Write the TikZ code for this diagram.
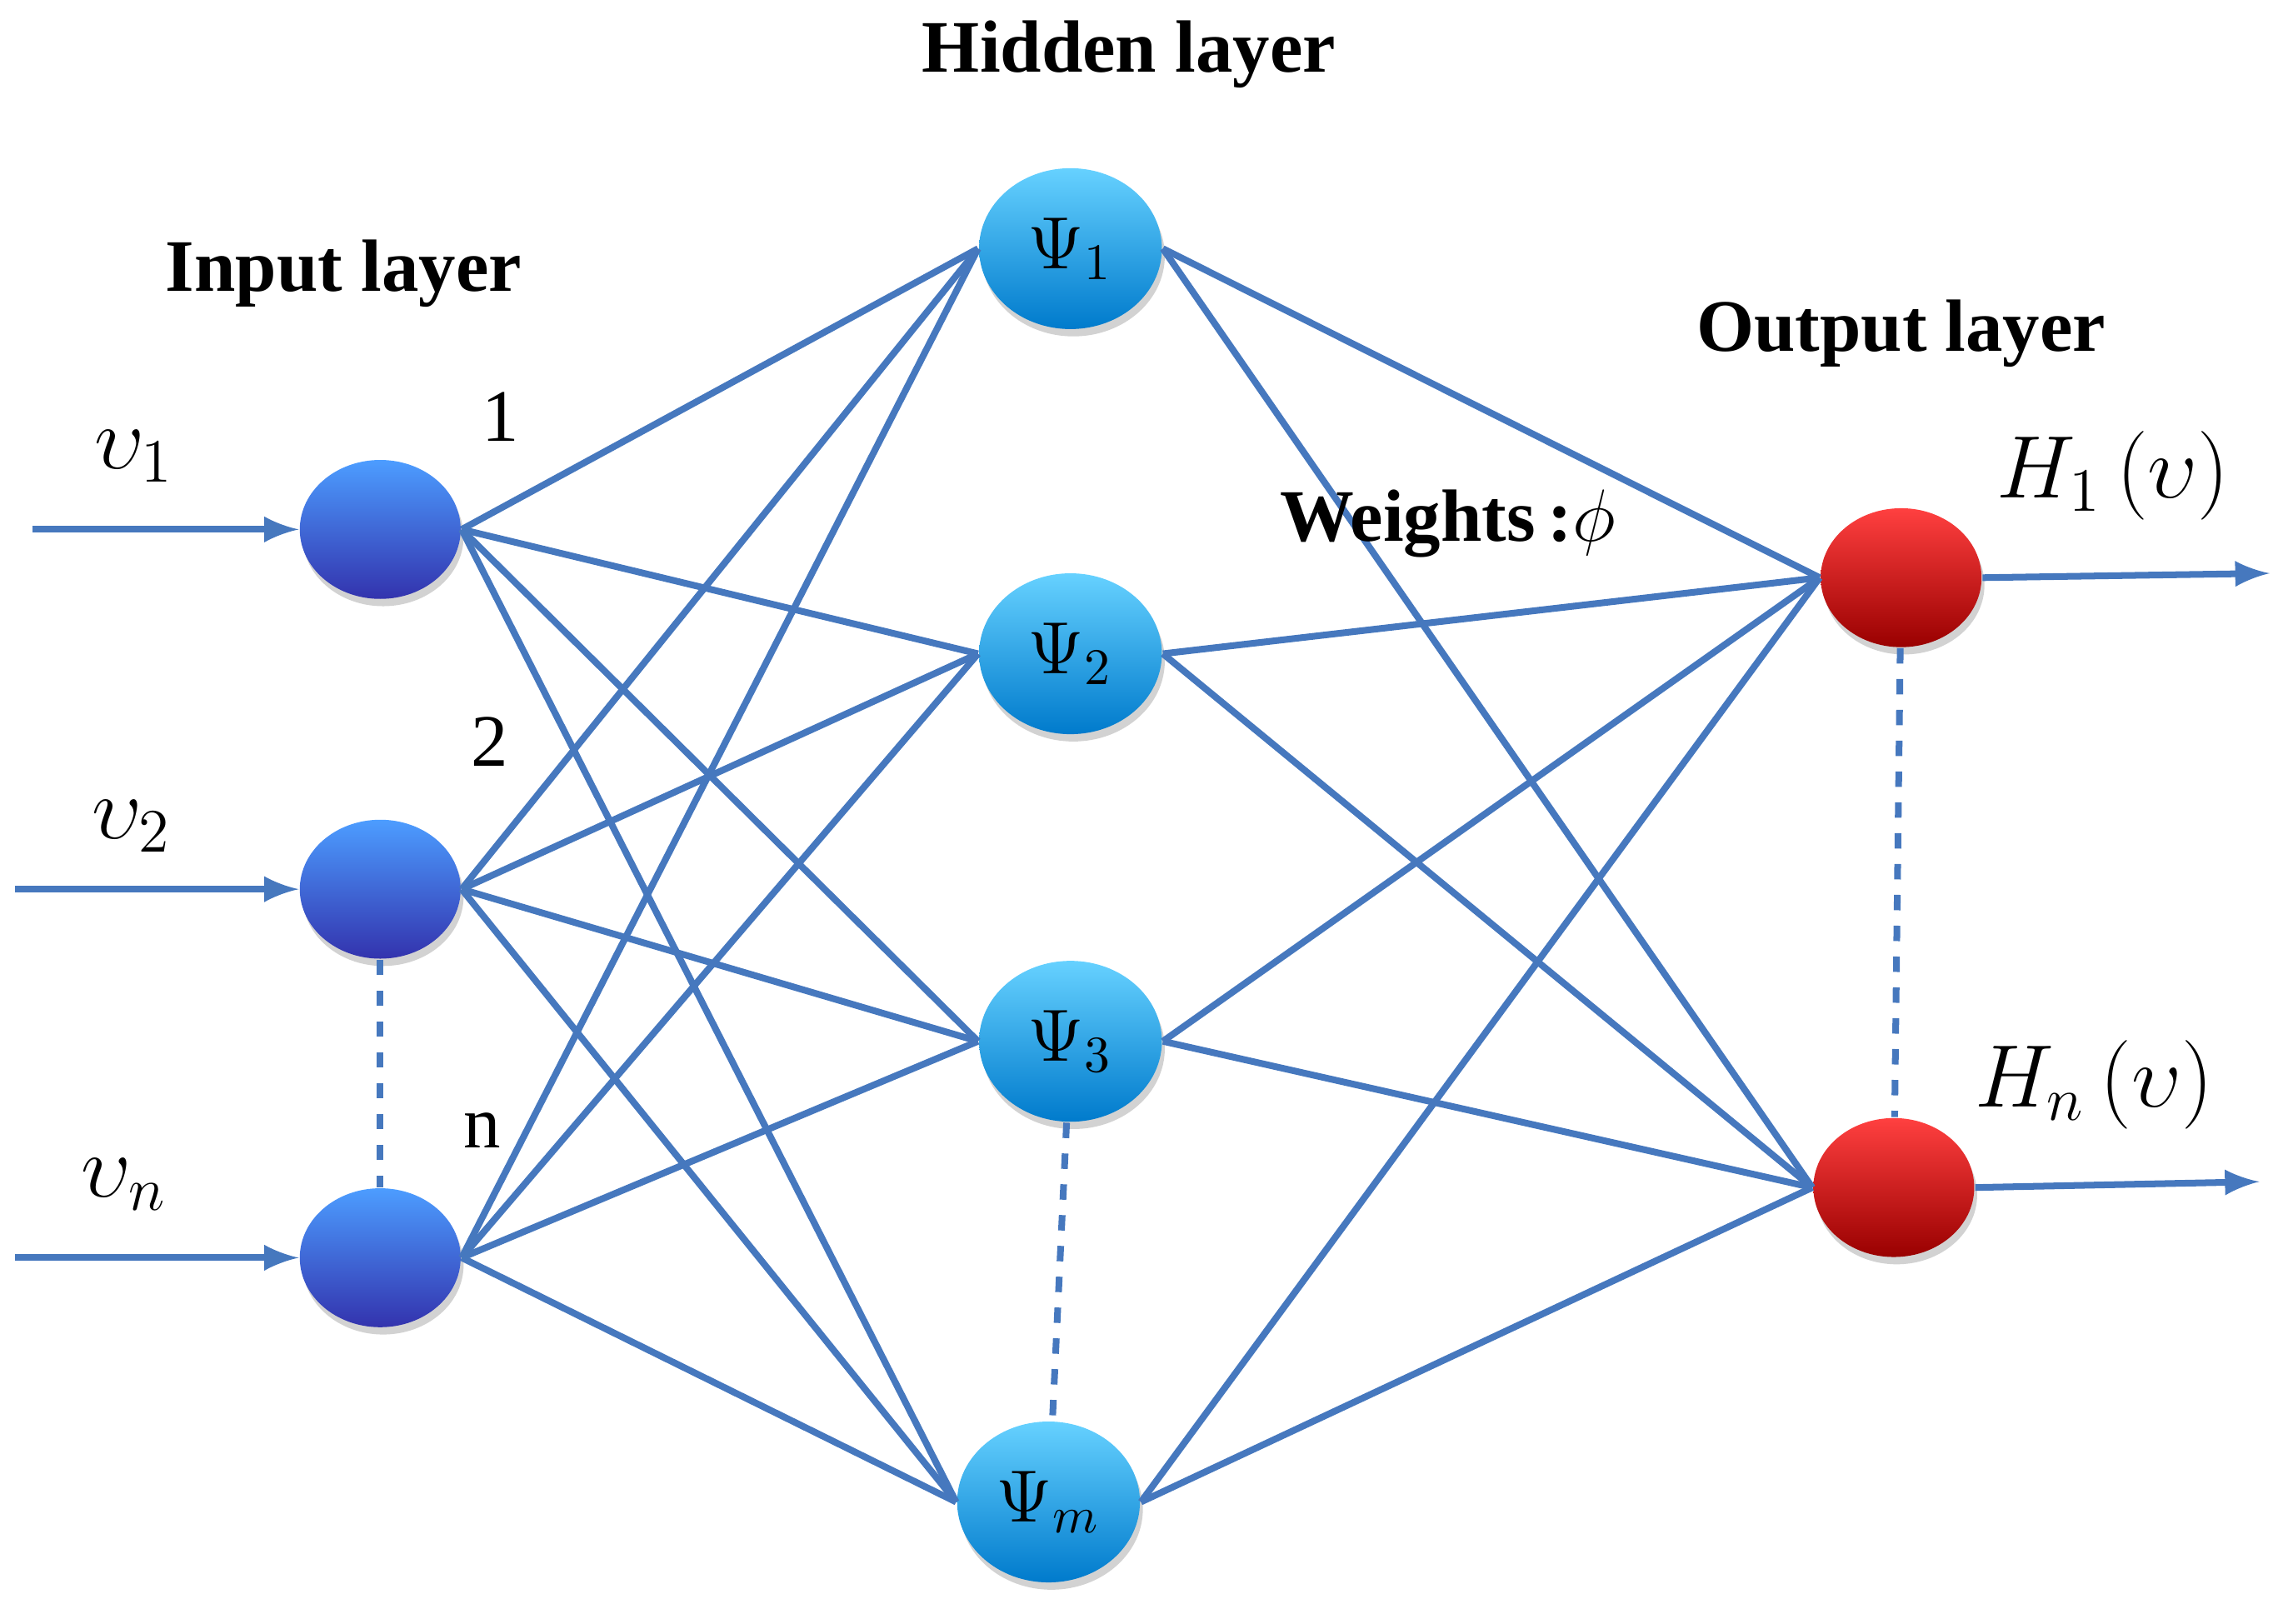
\documentclass[tikz,border=0pt]{standalone}
\usepackage{fontspec}
\setmainfont{Liberation Serif}
\usetikzlibrary{positioning, shadows, shapes.geometric}

\begin{document}
\begin{tikzpicture}[auto,
inode/.style = {ellipse, minimum width=1.1cm, minimum height=0.95cm, top color=blue!55!cyan!70!white, bottom color=blue!60!black!80, draw=none, drop shadow={shadow xshift=0.02cm, shadow yshift=-0.05cm, fill=gray!70}},
hnode/.style = {ellipse, minimum width=1.25cm, minimum height=1.1cm, top color=cyan!70!blue!60, bottom color=cyan!60!blue!80!black, draw=none, inner sep=0pt, drop shadow={shadow xshift=0.02cm, shadow yshift=-0.05cm, fill=gray!70}, font=\Large},
onode/.style = {ellipse, minimum width=1.1cm, minimum height=0.95cm, top color=red!75!white, bottom color=red!60!black, draw=none, drop shadow={shadow xshift=0.02cm, shadow yshift=-0.05cm, fill=gray!70}},
link/.style = {draw={rgb,255:red,70;green,120;blue,190}, line width=1.3pt},
title/.style = {font=\bfseries\Large},
lbl/.style = {font=\Large}]

  \useasboundingbox (0,0) rectangle (15.68,-11.1);

  \node[inode] (in1) at (2.60,-3.62) {};
  \node[inode] (in2) at (2.60,-6.08) {};
  \node[inode] (inn) at (2.60,-8.60) {};

  \node[hnode] (h1) at (7.32,-1.70) {$\Psi_{1}$};
  \node[hnode] (h2) at (7.32,-4.47) {$\Psi_{2}$};
  \node[hnode] (h3) at (7.32,-7.12) {$\Psi_{3}$};
  \node[hnode] (hm) at (7.17,-10.27) {$\Psi_{m}$};

  \node[onode] (o1) at (13.00,-3.95) {};
  \node[onode] (on) at (12.95,-8.12) {};

  % connections
  \foreach \i in {in1,in2,inn}
    \foreach \h in {h1,h2,h3,hm}
      \draw[link] (\i.east) -- (\h.west);
  \foreach \h in {h1,h2,h3,hm}
    \foreach \o in {o1,on}
      \draw[link] (\h.east) -- (\o.west);

  \draw[link, dashed] (in2) -- (inn);
  \draw[link, dashed] (h3) -- (hm);
  \draw[link, dashed] (o1) -- (on);

  % inputs and outputs
  \coordinate (x1) at (0.22,-3.62);
  \coordinate (x2) at (0.10,-6.08);
  \coordinate (xn) at (0.10,-8.60);
  \coordinate (y1) at (15.52,-3.92);
  \coordinate (yn) at (15.45,-8.08);
  \draw[link, -latex] (x1) -- (in1.west);
  \draw[link, -latex] (x2) -- (in2.west);
  \draw[link, -latex] (xn) -- (inn.west);
  \draw[link, -latex] (o1.east) -- (y1);
  \draw[link, -latex] (on.east) -- (yn);

  \node[lbl] (v1) at (0.92,-3.12) {\LARGE$\upsilon_{1}$};
  \node[lbl] (v2) at (0.90,-5.65) {\LARGE$\upsilon_{2}$};
  \node[lbl] (vn) at (0.85,-8.10) {\LARGE$\upsilon_{n}$};
  \node[lbl] (out1) at (14.45,-3.25) {\LARGE$H_{1}\left(\upsilon\right)$};
  \node[lbl] (outn) at (14.32,-7.42) {\LARGE$H_{n}\left(\upsilon\right)$};

  \node[lbl] (n1) at (3.42,-2.85) {1};
  \node[lbl] (n2) at (3.35,-5.07) {2};
  \node[lbl] (nn) at (3.30,-7.73) {n};

  \node[title] (tin) at (2.35,-1.87) {Input layer};
  \node[title] (thid) at (7.72,-0.37) {Hidden layer};
  \node[title] (tout) at (13.00,-2.28) {Output layer};
  \node[title] (tw) at (9.90,-3.58) {Weights\,:$\phi$};

\end{tikzpicture}
\end{document}
